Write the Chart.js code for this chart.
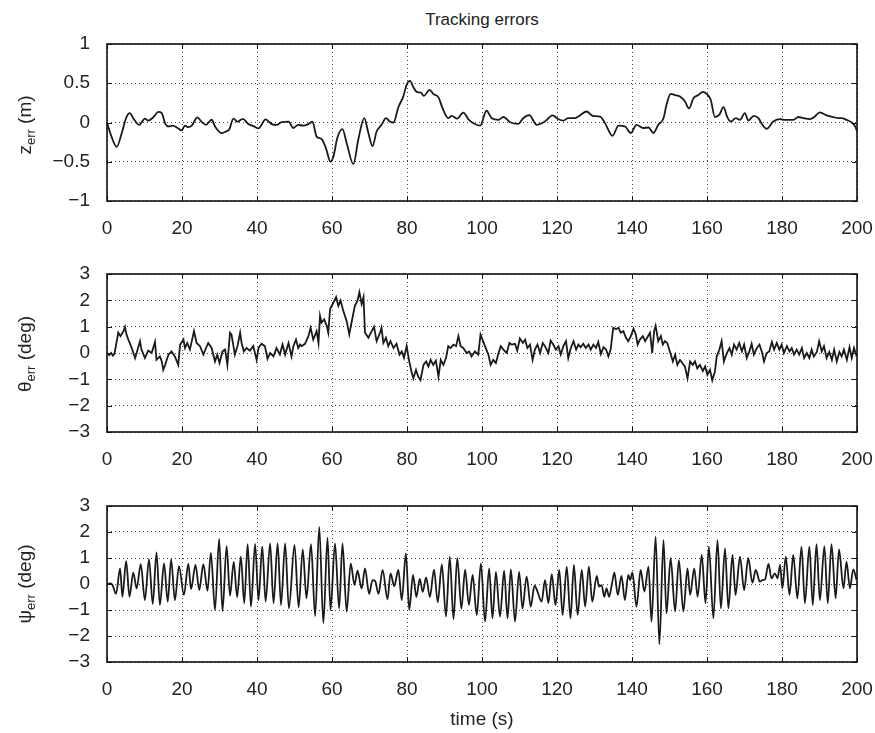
<!DOCTYPE html>
<html>
<head>
<meta charset="utf-8">
<script src="https://cdn.jsdelivr.net/npm/chart.js@4.4.0/dist/chart.umd.min.js"></script>
<style>
  body { margin: 0; background: #fff; }
  #pagina { position: relative; width: 875px; height: 733px; font-family: "Liberation Sans", Arial, sans-serif; color: #222; }
  canvas { position: absolute; left: 0; }
  .ylab { position: absolute; left: 26px; font-size: 19px; white-space: nowrap; transform: translate(-50%, -50%) rotate(-90deg); }
  .ylab sub { font-size: 13px; vertical-align: -4px; }
  #titulo { position: absolute; left: 482px; top: 20px; transform: translate(-50%, -50%); font-size: 17px; white-space: nowrap; }
  #xlab { position: absolute; left: 482px; top: 719px; transform: translate(-50%, -50%); font-size: 19px; white-space: nowrap; }
</style>
</head>
<body>
<div id="pagina">
  <div id="titulo">Tracking errors</div>
  <canvas id="grafico-z" width="875" height="250" style="top:0px"></canvas>
  <canvas id="grafico-theta" width="875" height="234" style="top:250px"></canvas>
  <canvas id="grafico-psi" width="875" height="249" style="top:484px"></canvas>
  <div class="ylab" style="top:125px">z<sub>err</sub> (m)</div>
  <div class="ylab" style="top:354px">θ<sub>err</sub> (deg)</div>
  <div class="ylab" style="top:584px">ψ<sub>err</sub> (deg)</div>
  <div id="xlab">time (s)</div>
</div>
<script>
// eixo x (tempo, s)
const xLimites = [0, 200];
const xPasso = 20;

// z_err (m)
const zTempo = [0, 1.2, 2.6, 3.9, 5.2, 6.1, 7.0, 8.6, 10.1, 11.0, 12.4, 13.7, 14.6, 15.5, 16.4, 17.5, 18.8, 19.9,
  20.8, 21.7, 22.6, 24.1, 25.2, 26.4, 27.9, 28.8, 30.6, 31.9, 32.6, 33.7, 34.8, 36.2, 37.7, 39.2,
  40.4, 42.3, 43.9, 45.2, 46.6, 48.4, 49.7, 51.0, 52.4, 53.7, 54.8, 55.9, 57.2, 58.4, 59.6,
  60.4, 61.4, 62.8, 63.9, 65.7, 67.0, 68.6, 69.7, 70.8, 71.9, 73.2, 74.4, 75.5, 76.4, 77.7, 79.0, 79.9,
  80.8, 81.7, 82.6, 83.7, 84.5, 86.0, 87.0, 88.4, 89.5, 91.0, 91.9, 93.4, 95.0, 96.4, 97.7, 99.5,
  101.2, 102.6, 104.4, 105.7, 107.5, 109.7, 111.0, 112.6, 114.6, 116.8, 118.8,
  120.4, 121.7, 123.0, 124.8, 126.1, 127.9, 129.5, 131.5, 132.8, 134.8, 136.4, 138.1, 139.7,
  141.2, 143.0, 144.4, 145.7, 147.0, 148.4, 149.2, 150.3, 151.5, 152.8, 154.1, 155.2, 156.4, 157.7, 158.9, 159.9,
  161.0, 162.1, 163.3, 164.4, 165.4, 166.3, 167.7, 168.8, 170.1, 171.0, 172.5, 173.7, 174.8, 175.9, 177.7, 179.5,
  181.1, 183.0, 184.4, 185.7, 187.5, 188.6, 190.1, 191.9, 193.7, 195.0, 195.9, 197.2, 198.6, 199.5, 200];
const zErro = [0, -0.18, -0.31, -0.14, 0.07, 0.12, 0.055, -0.03, 0.05, 0.025, 0.07, 0.135, 0.12, -0.01, -0.05, -0.04, -0.07, -0.1,
  -0.04, -0.06, -0.04, 0.065, 0.01, -0.03, 0.035, -0.05, -0.135, -0.11, -0.09, 0.05, 0.01, 0.047, -0.02, -0.05,
  -0.075, 0.04, -0.02, -0.03, 0.005, 0.01, -0.07, -0.03, -0.04, -0.02, 0.01, -0.18, -0.21, -0.33, -0.5,
  -0.43, -0.2, -0.085, -0.26, -0.53, -0.22, 0.055, -0.135, -0.3, -0.115, -0.03, 0.055, 0.01, 0, 0.195, 0.33, 0.48,
  0.53, 0.45, 0.39, 0.38, 0.34, 0.415, 0.365, 0.32, 0.18, 0.055, 0.085, 0.05, 0.127, 0.04, -0.01, -0.04,
  0.15, 0.055, 0.034, 0.07, 0.004, -0.017, 0.055, 0.093, -0.03, 0.013, 0.09,
  0.042, 0.025, 0.055, 0.055, 0.09, 0.14, 0.085, 0.076, -0.008, -0.17, -0.04, -0.05, -0.135,
  -0.03, -0.07, -0.064, -0.135, -0.03, 0.055, 0.225, 0.365, 0.35, 0.33, 0.27, 0.18, 0.31, 0.35, 0.39, 0.365,
  0.29, 0.07, 0.1, 0.195, 0.07, 0.013, 0.055, 0.034, 0.12, 0.025, 0.085, 0.055, -0.03, -0.08, 0.013, 0.042,
  0.034, 0.034, 0.07, 0.055, 0.042, 0.07, 0.13, 0.09, 0.07, 0.055, 0.055, 0.034, 0, -0.05, -0.11];

// theta_err (deg)
const thetaTempo = [0, 0.6, 1.1, 1.6, 2.0, 2.6, 3.0, 3.6, 4.4, 4.8, 5.2, 5.7, 6.6, 7.5, 7.9, 8.8, 9.2, 10.1, 11.0, 11.9,
  12.8, 13.2, 14.1, 14.6, 15.0, 15.5, 16.4, 17.2, 18.1, 19.0, 19.5, 20.4, 20.8, 21.4, 22.1, 23.2, 23.9, 24.8, 25.7,
  26.4, 27.0, 27.9, 28.8, 29.4, 30.0, 30.8, 31.5, 32.1, 32.8, 33.2, 34.1, 34.8, 35.5, 35.9, 36.5, 37.2, 38.1, 39.0,
  39.9, 40.4, 41.2, 42.1, 42.8, 43.5, 44.4, 45.2, 46.1, 46.8, 47.5, 48.4, 49.2, 49.7, 50.4, 51.0, 51.5, 51.9, 52.8,
  53.7, 54.3, 55.0, 55.9, 56.4, 56.8, 57.2, 57.9, 58.6, 59.0, 59.5, 60.4, 61.1, 61.7, 62.3, 63.0, 63.9, 64.6, 65.2,
  66.1, 66.8, 67.3, 67.9, 68.4, 68.8, 69.7, 70.6, 71.2, 71.9, 72.8, 73.2, 73.7, 74.4, 75.0, 75.6, 76.4, 77.2, 78.0,
  78.6, 79.2, 79.9, 80.6, 81.2, 81.7, 82.4, 83.0, 83.6, 84.4, 85.1, 85.7, 86.3, 87.0, 87.7, 88.4, 89.0, 89.7, 90.4,
  91.0, 91.6, 92.4, 93.1, 93.7, 94.3, 95.0, 95.9, 96.6, 97.2, 98.1, 99.0, 99.6, 100.8, 101.7, 102.3, 103.0, 103.7,
  104.4, 105.0, 105.7, 106.6, 107.3, 107.9, 108.8, 109.4, 110.1, 110.9, 111.5, 112.1, 112.8, 113.5, 114.1, 114.8,
  115.5, 116.2, 116.8, 117.7, 118.3, 119.0, 119.7, 120.4, 121.0, 121.7, 122.4, 123.0, 123.7, 124.4, 125.1, 125.7,
  126.3, 127.0, 127.7, 128.4, 129.0, 129.7, 130.4, 131.0, 131.7, 132.4, 133.1, 133.7, 134.3, 135.0, 135.7, 136.4,
  137.0, 137.7, 138.4, 139.0, 139.7, 140.4, 141.0, 141.5, 142.1, 142.9, 143.5, 144.1, 144.8, 145.4, 145.9, 146.3,
  147.0, 147.7, 148.2, 148.8, 149.4, 150.1, 150.9, 151.5, 152.1, 152.8, 153.4, 154.1, 154.8, 155.5, 156.2, 156.8,
  157.4, 158.1, 158.9, 159.5, 160.1, 160.8, 161.4, 162.1, 162.6, 163.3, 163.9, 164.5, 165.3, 166.0, 166.6, 167.2,
  167.9, 168.6, 169.3, 169.9, 170.6, 171.3, 171.9, 172.5, 173.3, 174.0, 174.6, 175.2, 175.9, 176.6, 177.3, 177.9,
  178.6, 179.3, 179.9, 180.5, 181.3, 182.0, 182.6, 183.2, 183.9, 184.6, 185.3, 185.9, 186.6, 187.3, 187.9, 188.5,
  189.3, 189.9, 190.6, 191.2, 191.9, 192.6, 193.3, 193.9, 194.6, 195.3, 195.9, 196.5, 197.3, 198.0, 198.6, 199.2, 199.9];
const thetaErro = [0, -0.08, 0, -0.1, -0.02, 0.45, 0.77, 0.64, 0.83, 0.99, 0.7, 0.51, 0.19, -0.19, 0, 0.45, 0.13, -0.19, 0.09, 0,
  0.42, -0.26, -0.13, -0.32, -0.64, -0.45, -0.06, 0.06, -0.13, -0.45, 0.32, 0.51, 0.19, 0.38, 0.13, 0.83, 0.38, 0.26, -0.06,
  0.19, 0.38, 0.19, -0.32, -0.06, -0.38, 0.06, 0.13, -0.45, 0.77, 0.7, -0.06, 0.26, 0.77, 0.38, 0.06, 0.19, 0.09, 0.26,
  -0.26, 0.19, 0.35, 0.26, -0.22, 0, -0.13, 0.19, -0.06, 0.32, -0.06, 0.38, -0.13, 0.26, 0.51, 0.19, 0.32, 0.26, 0.35,
  0.64, 0.96, 0.51, 0.83, 0.38, 1.41, 1.15, 1.28, 1.03, 0.77, 1.67, 1.92, 2.12, 1.79, 1.99, 1.6, 1.22, 0.71, 1.15,
  1.79, 1.99, 2.31, 1.86, 2.12, 0.77, 0.58, 0.83, 0.99, 0.45, 0.77, 0.96, 0.38, 0.58, 0.26, 0.45, 0.19, 0.35, -0.06,
  0.06, -0.19, 0.26, -0.32, -0.71, -0.96, -0.64, -0.9, -1.03, -0.45, -0.32, -0.51, -0.26, -0.45, -0.29, -0.9, -0.26, -0.45, -0.19,
  0.26, 0.19, 0.32, 0.26, 0.64, 0.26, 0.19, 0, 0.06, -0.13, 0.06, -0.06, 0.7, 0.26, -0.06, -0.45, -0.26, -0.38,
  0, 0.26, 0.13, 0, 0.38, 0.32, 0.35, 0.09, 0.55, 0.38, 0.51, 0.19, 0.32, -0.26, 0.13, 0.32,
  0, 0.38, 0.26, 0, 0.47, 0.32, 0.13, 0.26, -0.06, 0.26, 0.45, -0.19, 0.19, 0.45, 0.13, 0.32,
  0.22, 0.35, 0.19, 0.32, 0.13, 0.32, 0.19, 0.42, -0.04, 0.22, 0.13, -0.13, 0.13, 0.96, 0.9, 0.96,
  0.77, 0.83, 0.58, 0.45, 0.64, 0.92, 0.71, 0.32, 0.51, 0.64, 0.45, 0.6, 0.77, 0, 0.83, 1.03,
  0.45, 0.64, 0.32, 0.45, 0.38, 0.06, -0.32, -0.06, -0.45, -0.26, -0.38, -0.51, -0.96, -0.32, -0.45, -0.32,
  -0.58, -0.45, -0.68, -0.51, -0.83, -0.64, -1.03, -0.71, -0.13, 0.13, 0.45, -0.32, 0, 0.19, -0.06, 0.32,
  0.13, 0.38, 0.06, 0.32, -0.19, 0.06, 0.35, -0.06, 0.19, 0.32, 0.06, -0.32, 0, 0.06, 0.42, 0.13,
  0.38, 0.13, 0.32, 0, 0.26, 0.06, 0.19, -0.06, 0.13, -0.06, 0.19, -0.19, 0, -0.19, 0.13, -0.13,
  0.04, 0.45, 0.06, 0.26, -0.19, 0.04, -0.26, 0.13, -0.32, 0.04, -0.13, 0.13, -0.26, 0.22, -0.19, 0.19, -0.13];

// psi_err (deg)
const psiTempo = [0, 0.9, 1.5, 2.4, 3.5, 4.1, 5.1, 6.0, 7.0, 7.9, 9.0, 10.1, 11.2, 12.2, 13.2, 14.1, 15.2, 16.2, 17.1, 18.1, 19.2,
  20.5, 21.7, 22.4, 23.6, 24.6, 25.7, 26.8, 27.7, 28.8, 29.9, 30.8, 31.9, 32.8, 33.8, 34.7, 35.7, 36.6, 37.5, 38.4, 39.5,
  40.4, 41.4, 42.3, 43.5, 44.4, 45.5, 46.4, 47.5, 48.5, 50.0, 51.1, 52.2, 53.2, 54.4, 55.5, 56.6, 57.7, 58.8, 59.6,
  60.8, 61.9, 62.8, 63.9, 65.0, 66.0, 66.8, 67.9, 68.8, 69.9, 70.8, 71.5, 72.4, 73.5, 74.8, 75.6, 76.6, 77.7, 78.6, 79.7,
  80.6, 81.6, 82.5, 83.4, 84.2, 85.1, 86.1, 87.2, 88.2, 89.3, 90.4, 91.4, 92.4, 93.4, 94.5, 95.5, 96.5, 97.5, 98.6, 99.7,
  100.8, 101.9, 102.8, 103.7, 104.8, 105.9, 106.8, 107.7, 108.8, 109.9, 110.8, 111.9, 113.0, 114.0, 114.8, 115.9,
  116.8, 117.7, 118.6, 119.6, 120.6, 121.5, 122.6, 123.6, 124.5, 125.5, 126.6, 127.5, 128.5, 129.4, 130.6, 131.2,
  131.9, 132.6, 133.2, 133.9, 134.6, 135.3, 136.2, 137.2, 138.1, 139.0, 139.5, 140.1, 141.2, 142.3, 143.3, 144.4,
  145.2, 146.3, 147.3, 148.4, 149.2, 150.3, 151.5, 152.5, 153.7, 154.8, 155.5, 156.6, 157.5, 158.6, 159.6,
  160.5, 161.7, 162.8, 163.7, 164.8, 165.7, 166.8, 167.6, 168.8, 169.9, 171.0, 172.1, 173.0, 174.1, 174.8, 175.5,
  176.4, 177.2, 178.1, 178.8, 179.5, 180.1, 181.0, 182.0, 183.0, 184.1, 185.2, 186.1, 187.3, 188.2, 189.2, 190.1,
  191.3, 192.2, 193.2, 194.3, 195.2, 196.4, 197.2, 198.1, 199.0, 199.9];
const psiErro = [0, 0.02, -0.05, -0.38, 0.6, -0.49, 0.88, -0.49, 0.44, -0.17, 0.76, -0.62, 0.95, -0.77, 1.22, -0.81, 0.79, -0.68, 0.95, -0.62, 0.69,
  -0.42, 0.77, -0.2, 0.73, -0.23, 0.76, -0.26, 1.2, -1.0, 1.73, -1.04, 1.46, -0.45, 0.85, -0.5, 1.05, -0.74, 1.53, -0.87, 1.54,
  -0.62, 1.44, -0.68, 1.56, -0.74, 1.56, -0.81, 1.56, -0.94, 1.5, -0.9, 1.33, -0.55, 1.53, -1.23, 2.2, -1.51, 1.78, -1.0,
  1.56, -0.94, 1.56, -1.06, 0.79, -0.04, 0.51, -0.17, 0.6, -0.38, 0.15, 0.12, -0.38, 0.54, -0.59, 0.41, -0.08, 0.54, -0.62, 1.18,
  -1.0, 0.35, -0.5, 0.2, -0.3, 0.25, -0.5, 0.55, -0.7, 0.75, -1.25, 1.05, -1.35, 1.0, -0.95, 0.55, -0.8, 0.35, -1.2, 0.79,
  -1.45, 0.6, -1.32, 0.47, -1.26, 0.51, -1.32, 0.56, -1.45, 0.47, -0.94, 0.28, -0.87, -0.06, -0.29, -0.68,
  0.15, -0.74, 0.38, -0.81, 0.54, -1.19, 0.67, -1.32, 0.73, -1.19, 0.54, -0.87, 0.67, -0.68, 0.31, -0.1,
  -0.04, -0.49, -0.17, -0.49, -0.04, 0.44, -0.42, 0.31, -0.62, 0.35, 0.15, 0.44, -0.87, 0.54, -0.29, 0.67,
  -1.45, 1.82, -2.32, 1.69, -1.13, 0.99, -1.06, 0.92, -1.06, 0.6, -0.42, 0.6, -0.49, 1.12, -0.74,
  1.44, -1.32, 1.69, -0.94, 1.37, -0.94, 1.12, -0.42, 1.05, -0.23, 0.99, 0.05, 0.54, 0.09, 0.15, 0.18,
  0.77, 0.22, 0.41, 0.22, 0.73, -0.17, 1.05, -0.42, 1.12, -0.55, 1.44, -0.74, 1.44, -0.81, 1.53, -0.62,
  1.46, -0.74, 1.53, -0.55, 1.33, -0.17, 0.86, -0.17, 0.56, 0.15];

const corTexto = '#222';
const fonteTicks = { family: '"Liberation Sans", Arial, sans-serif', size: 19 };

// moldura preta com marcas de escala para dentro
const moldura = {
  id: 'moldura',
  afterDraw(chart) {
    const { ctx, chartArea: a, scales } = chart;
    ctx.save();
    ctx.strokeStyle = '#111';
    ctx.lineWidth = 1;
    ctx.beginPath();
    scales.x.ticks.forEach(t => {
      const px = Math.round(scales.x.getPixelForValue(t.value)) + 0.5;
      ctx.moveTo(px, a.bottom); ctx.lineTo(px, a.bottom - 5);
      ctx.moveTo(px, a.top); ctx.lineTo(px, a.top + 5);
    });
    scales.y.ticks.forEach(t => {
      const py = Math.round(scales.y.getPixelForValue(t.value)) + 0.5;
      ctx.moveTo(a.left, py); ctx.lineTo(a.left + 5, py);
      ctx.moveTo(a.right, py); ctx.lineTo(a.right - 5, py);
    });
    ctx.stroke();
    ctx.lineWidth = 1.6;
    ctx.strokeRect(a.left, a.top, a.right - a.left, a.bottom - a.top);
    ctx.restore();
  }
};

function criarGrafico(id, tempo, valores, yMin, yMax, yPasso, suave, padTopo, altEixoX) {
  return new Chart(document.getElementById(id).getContext('2d'), {
    type: 'line',
    data: {
      datasets: [{
        data: tempo.map((t, i) => ({ x: t, y: valores[i] })),
        borderColor: '#1a1a1a',
        borderWidth: 1.8,
        pointRadius: 0,
        tension: 0,
        cubicInterpolationMode: suave ? 'monotone' : 'default',
        fill: false
      }]
    },
    options: {
      responsive: false,
      animation: false,
      layout: { padding: { top: padTopo, right: 18, bottom: 0, left: 0 } },
      plugins: { legend: { display: false }, tooltip: { enabled: false } },
      scales: {
        x: {
          type: 'linear',
          min: xLimites[0],
          max: xLimites[1],
          ticks: { stepSize: xPasso, padding: 0, autoSkip: false, color: corTexto, font: fonteTicks, maxRotation: 0 },
          grid: { color: '#444', lineWidth: 1, drawTicks: true, tickLength: 16, tickColor: 'rgba(0,0,0,0)' },
          border: { display: false, dash: [1, 3] },
          afterFit: s => { s.height = altEixoX; }
        },
        y: {
          min: yMin,
          max: yMax,
          ticks: {
            stepSize: yPasso,
            padding: 0,
            autoSkip: false,
            color: corTexto,
            font: fonteTicks,
            callback: v => String(v).replace('-', '\u2212')
          },
          grid: { color: '#444', lineWidth: 1, drawTicks: true, tickLength: 17, tickColor: 'rgba(0,0,0,0)' },
          border: { display: false, dash: [1, 3] },
          afterFit: s => { s.width = 107; }
        }
      }
    },
    plugins: [moldura]
  });
}

window.onload = function () {
  criarGrafico('grafico-z', zTempo, zErro, -1, 1, 0.5, true, 44, 49);
  criarGrafico('grafico-theta', thetaTempo, thetaErro, -3, 3, 1, false, 24, 52);
  criarGrafico('grafico-psi', psiTempo, psiErro, -3, 3, 1, true, 22, 71);
};
</script>
</body>
</html>
